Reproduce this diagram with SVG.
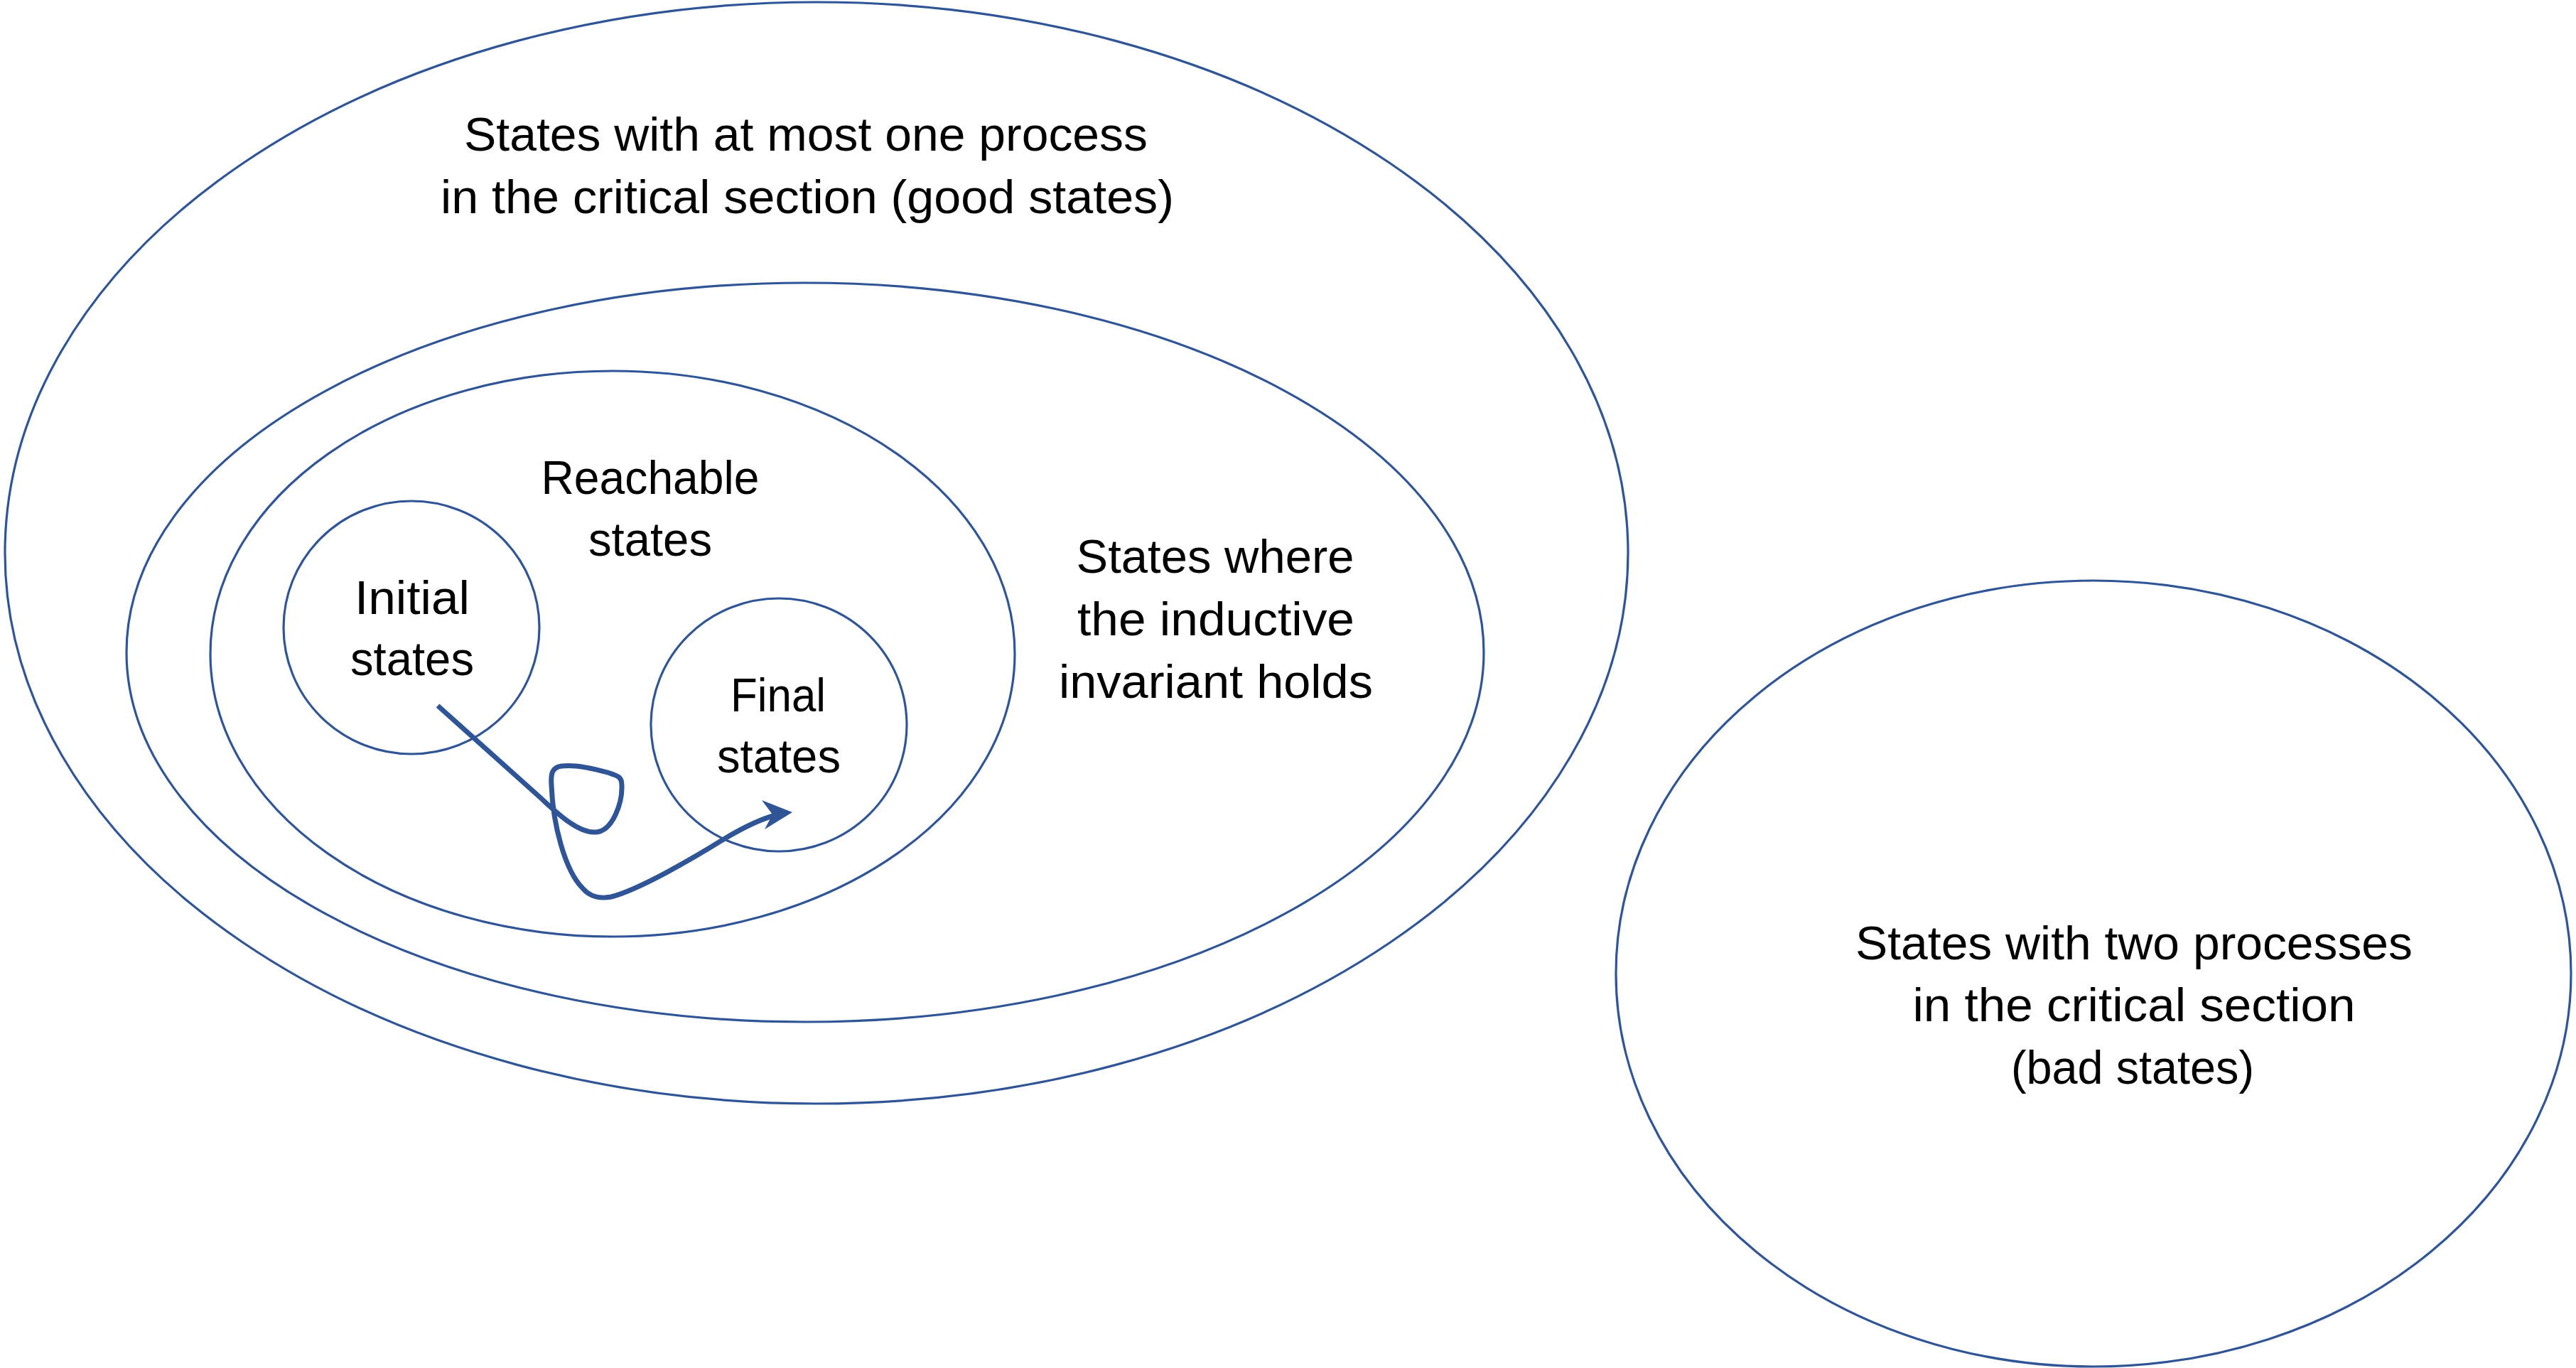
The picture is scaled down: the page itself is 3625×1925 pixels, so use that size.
<svg xmlns="http://www.w3.org/2000/svg" width="3625" height="1925" viewBox="0 0 3625 1925">
<style>
.set{fill:none;stroke:#2F5597;stroke-width:3.2}
.lbl{font-family:"Liberation Sans",Arial,sans-serif;font-size:66px;fill:#000;text-anchor:middle}
.flow{fill:none;stroke:#2F5597;stroke-width:7;stroke-linecap:butt;stroke-linejoin:round}
</style>
<rect width="3625" height="1925" fill="#fff"/>
<g id="good-states">
<ellipse class="set" cx="1149" cy="778" rx="1142" ry="775"/>
<text class="lbl" x="1134" y="212" textLength="962" lengthAdjust="spacingAndGlyphs">States with at most one process</text>
<text class="lbl" x="1136" y="300" textLength="1032" lengthAdjust="spacingAndGlyphs">in the critical section (good states)</text>
</g>
<g id="inductive-invariant">
<ellipse class="set" cx="1133" cy="918" rx="955" ry="520"/>
<text class="lbl" x="1710" y="806" textLength="391" lengthAdjust="spacingAndGlyphs">States where</text>
<text class="lbl" x="1711" y="894" textLength="390" lengthAdjust="spacingAndGlyphs">the inductive</text>
<text class="lbl" x="1711" y="982" textLength="442" lengthAdjust="spacingAndGlyphs">invariant holds</text>
</g>
<g id="reachable-states">
<ellipse class="set" cx="862" cy="920" rx="566" ry="398"/>
<text class="lbl" x="915" y="695" textLength="307" lengthAdjust="spacingAndGlyphs">Reachable</text>
<text class="lbl" x="915" y="782" textLength="174" lengthAdjust="spacingAndGlyphs">states</text>
</g>
<g id="initial-states">
<ellipse class="set" cx="579" cy="883" rx="180" ry="178"/>
<text class="lbl" x="580" y="864" textLength="162" lengthAdjust="spacingAndGlyphs">Initial</text>
<text class="lbl" x="580" y="950" textLength="174" lengthAdjust="spacingAndGlyphs">states</text>
</g>
<g id="final-states">
<ellipse class="set" cx="1096" cy="1020" rx="180" ry="178"/>
<text class="lbl" x="1095" y="1001" textLength="134" lengthAdjust="spacingAndGlyphs">Final</text>
<text class="lbl" x="1096" y="1087" textLength="174" lengthAdjust="spacingAndGlyphs">states</text>
</g>
<g id="bad-states">
<ellipse class="set" cx="2946" cy="1370" rx="672" ry="553"/>
<text class="lbl" x="3003" y="1350" textLength="784" lengthAdjust="spacingAndGlyphs">States with two processes</text>
<text class="lbl" x="3003" y="1437" textLength="623" lengthAdjust="spacingAndGlyphs">in the critical section</text>
<text class="lbl" x="3001" y="1525" textLength="342" lengthAdjust="spacingAndGlyphs">(bad states)</text>
</g>
<g id="connectors">
<path class="flow" d="M 616 993 L 760 1122 C 790 1150, 815 1172, 838 1171 C 862 1170, 876 1130, 875 1105 C 875 1093, 870 1092, 855 1087 C 830 1080, 805 1076, 790 1078 C 776 1080, 775 1090, 776 1105 C 778 1160, 795 1225, 820 1250 C 830 1262, 845 1265, 860 1262 C 900 1252, 980 1205, 1020 1180 C 1050 1162, 1075 1151, 1095 1146"/>
<polygon fill="#2F5597" points="1115,1143 1072,1126 1087,1146 1076,1167"/>
</g>
</svg>
